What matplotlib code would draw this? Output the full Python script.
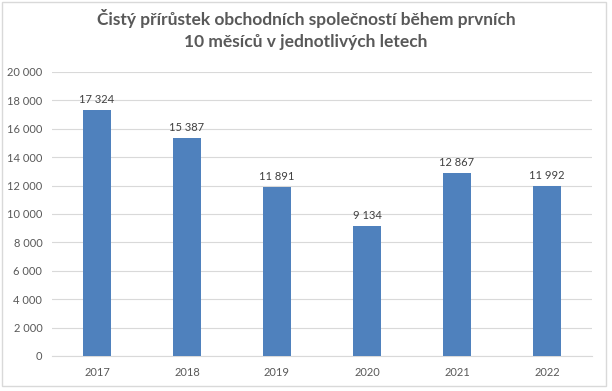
import matplotlib.pyplot as plt
from matplotlib.patches import FancyBboxPatch

years = ["2017", "2018", "2019", "2020", "2021", "2022"]
values = [17324, 15387, 11891, 9134, 12867, 11992]
yticks = [0, 2000, 4000, 6000, 8000, 10000, 12000, 14000, 16000, 18000, 20000]

BAR = "#4f81bd"
TXT = "#595959"
GRID = "#d9d9d9"

plt.rcParams["font.family"] = ["Lato", "DejaVu Sans"]


def fmt(v):
    return f"{v:,}".replace(",", " ")


W, H = 612, 391
fig = plt.figure(figsize=(W / 100, H / 100), dpi=100)
fig.patch.set_facecolor("white")

# chart border
fig.patches.append(FancyBboxPatch((1.5 / W, 5 / H), (W - 8) / W, (H - 7) / H,
                                  boxstyle="square,pad=0", transform=fig.transFigure,
                                  facecolor="none", edgecolor=GRID, linewidth=1))

ax = fig.add_axes([52 / W, (H - 356) / H, 540 / W, 284 / H])
x = range(len(years))
ax.bar(x, values, width=0.31, color=BAR, zorder=3)
for i, v in enumerate(values):
    ax.text(i, v + 350, fmt(v), ha="center", va="bottom", fontsize=8, color="#404040")

ax.set_xlim(-0.5, len(years) - 0.5)
ax.set_ylim(0, 20000)
ax.set_yticks(yticks)
ax.set_yticklabels([fmt(t) for t in yticks])
ax.set_xticks(list(x))
ax.set_xticklabels(years)
ax.tick_params(length=0, labelsize=8, colors=TXT)
ax.tick_params(axis="y", pad=7)
ax.tick_params(axis="x", pad=8)
ax.grid(axis="y", color=GRID, linewidth=0.8, zorder=0)
for s in ["top", "right", "left"]:
    ax.spines[s].set_visible(False)
ax.spines["bottom"].set_color(GRID)

fig.text(0.5, 1 - 18 / H, "Čistý přírůstek obchodních společností během prvních",
         ha="center", va="center", fontsize=12.5, fontweight="bold", color=TXT)
fig.text(0.5, 1 - 42 / H, "10 měsíců v jednotlivých letech",
         ha="center", va="center", fontsize=12.5, fontweight="bold", color=TXT)

fig.savefig("out.png", dpi=100)
